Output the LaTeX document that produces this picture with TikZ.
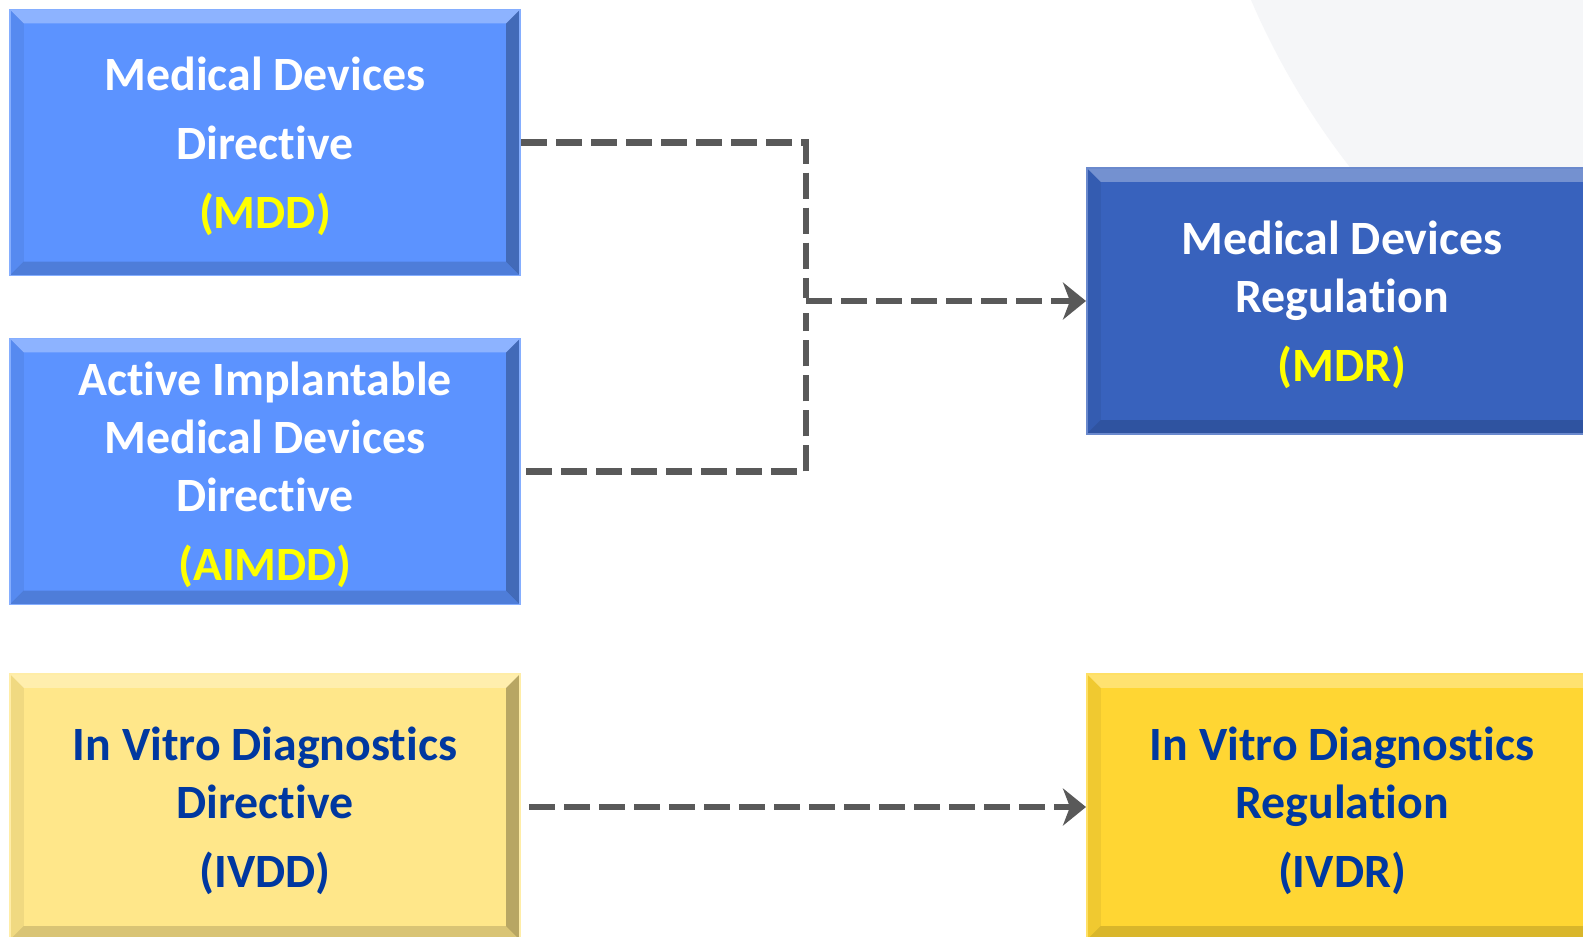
\documentclass[tikz,border=0pt]{standalone}
\usepackage{fontspec}
\setmainfont{Carlito}[Ligatures=NoCommon]
\usetikzlibrary{arrows.meta}

\definecolor{mddblue}{RGB}{92,147,255}
\definecolor{mdrblue}{RGB}{56,98,189}
\definecolor{ivddyellow}{RGB}{255,231,138}
\definecolor{ivdryellow}{RGB}{255,214,51}
\definecolor{acroyellow}{RGB}{255,255,0}
\definecolor{navytext}{RGB}{0,56,160}
\definecolor{linkgray}{RGB}{89,89,89}
\definecolor{discgray}{RGB}{245,246,248}

\tikzset{
  bevel/.style={path picture={
      \fill[white,opacity=0.3] (path picture bounding box.north west) -- (path picture bounding box.north east)
        -- ([shift={(-0.14cm,-0.14cm)}]path picture bounding box.north east) -- ([shift={(0.14cm,-0.14cm)}]path picture bounding box.north west) -- cycle;
      \fill[black,opacity=0.06] (path picture bounding box.north west) -- (path picture bounding box.south west)
        -- ([shift={(0.14cm,0.14cm)}]path picture bounding box.south west) -- ([shift={(0.14cm,-0.14cm)}]path picture bounding box.north west) -- cycle;
      \fill[black,opacity=0.15] (path picture bounding box.south west) -- (path picture bounding box.south east)
        -- ([shift={(-0.14cm,0.14cm)}]path picture bounding box.south east) -- ([shift={(0.14cm,0.14cm)}]path picture bounding box.south west) -- cycle;
      \fill[black,opacity=0.28] (path picture bounding box.north east) -- (path picture bounding box.south east)
        -- ([shift={(-0.14cm,0.14cm)}]path picture bounding box.south east) -- ([shift={(-0.14cm,-0.14cm)}]path picture bounding box.north east) -- cycle;
    }},
  regbox/.style={minimum width=5.1cm, minimum height=2.66cm, inner sep=0pt, align=center, text depth=0pt,
    font=\fontsize{13.6}{16.5}\selectfont\bfseries, draw=#1!75!white, line width=0.5pt, fill=#1, bevel},
  link/.style={draw=linkgray, line width=0.065cm, dash pattern=on 0.26cm off 0.09cm},
  arrowtip/.style={-{Stealth[length=0.23cm,width=0.37cm,inset=0.07cm]}}
}

\begin{document}
\begin{tikzpicture}[x=0.01cm, y=-0.01cm]
  \clip (0,0) rectangle (1583,936);
  \fill[white] (0,0) rectangle (1583,936);
  % pale disc behind the right column
  \fill[discgray] (1950,-300) circle [radius=7.6cm];

  % directives
  \node[regbox=mddblue, text=white] (mdd) at (265,142.5)
    {Medical Devices\\[3.1pt]Directive\\[3.1pt]\textcolor{acroyellow}{(MDD)}};
  \node[regbox=mddblue, text=white] (aimdd) at (265,471.5)
    {Active Implantable\\Medical Devices\\Directive\\[3.1pt]\textcolor{acroyellow}{(AIMDD)}};
  \node[regbox=ivddyellow, text=navytext] (ivdd) at (265,807)
    {In Vitro Diagnostics\\Directive\\[3.1pt](IVDD)};

  % regulations
  \node[regbox=mdrblue, text=white] (mdr) at (1342,301)
    {Medical Devices\\Regulation\\[3.1pt]\textcolor{acroyellow}{(MDR)}};
  \node[regbox=ivdryellow, text=navytext] (ivdr) at (1342,807)
    {In Vitro Diagnostics\\Regulation\\[3.1pt](IVDR)};

  \coordinate (jn) at (806,301);

  \begin{scope}[link]
    \draw (mdd.east) -| ([yshift=0.03cm]jn);
    \draw ([xshift=0.05cm]aimdd.east) -| ([yshift=-0.12cm]jn);
    \draw[arrowtip] (jn) -- (mdr.west);
    \draw[arrowtip] ([xshift=0.08cm]ivdd.east) -- (ivdr.west);
  \end{scope}
\end{tikzpicture}
\end{document}
